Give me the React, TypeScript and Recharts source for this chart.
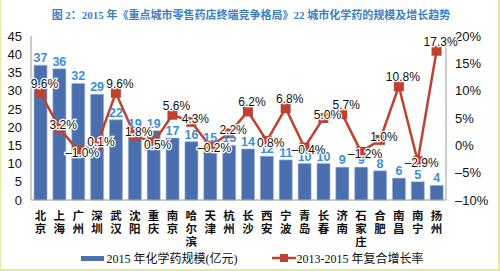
import { ComposedChart, Bar, Line, XAxis, YAxis, LabelList, Legend } from 'recharts'

const cities = [
  '北京', '上海', '广州', '深圳', '武汉', '沈阳', '重庆', '南京', '哈尔滨', '天津', '杭州',
  '长沙', '西安', '宁波', '青岛', '长春', '济南', '石家庄', '合肥', '南昌', '南宁', '扬州',
]
const scale2015 = [37, 36, 32, 29, 22, 19, 19, 17, 16, 15, 15, 14, 12, 11, 10, 10, 9, 9, 8, 6, 5, 4]
const cagr = [9.6, 3.2, -1.0, 0.1, 9.6, 1.8, 0.5, 5.6, 4.3, -0.2, 2.2, 6.2, 0.8, 6.8, -0.4, 5.0, 5.7, -1.2, 1.0, 10.8, -2.9, 17.3]

const leftTicks = [0, 5, 10, 15, 20, 25, 30, 35, 40, 45]
const rightTicks = [-10, -5, 0, 5, 10, 15, 20]

const BAR = '#4b6fae'
const LINE = '#bf4130'
const SANS = '"Liberation Sans", Arial, "Noto Sans CJK SC", sans-serif'
const SERIF = '"Liberation Serif", "Noto Sans CJK SC", serif'

const data = cities.map((city, i) => ({ city, size: scale2015[i], rate: cagr[i] }))

const pct = (v: number) => (v < 0 ? '–' + Math.abs(v).toFixed(1) : v.toFixed(1)) + '%'
const pctTick = (v: number) => (v < 0 ? '–' + Math.abs(v) : String(v)) + '%'

// city names stacked vertically, one character per line
function CityTick({ x, y, payload }: any) {
  const chars = String(payload.value).split('')
  return (
    <text x={x} y={y} textAnchor="middle" fontSize={11.5} fontWeight="bold" fill="#111" fontFamily={SANS}>
      {chars.map((c, i) => (
        <tspan key={i} x={x} dy={i === 0 ? 12 : 13}>{c}</tspan>
      ))}
    </text>
  )
}

// growth labels: above peaks, under dips, beside the line on slopes
function RateLabel({ x, y, value, index }: any) {
  const prev = index > 0 ? cagr[index - 1] : -Infinity
  const next = index < cagr.length - 1 ? cagr[index + 1] : -Infinity
  const prevD = index > 0 ? cagr[index - 1] : Infinity
  const nextD = index < cagr.length - 1 ? cagr[index + 1] : Infinity
  let dy = 1
  if (value > prev && value > next) dy = -5
  else if (value < prevD && value < nextD) dy = 6
  return (
    <text
      x={x + 4}
      y={y + dy}
      textAnchor="middle"
      fontSize={12}
      fill="#111"
      fontFamily={SANS}
      stroke="#fff"
      strokeWidth={2.5}
      paintOrder="stroke"
    >
      {pct(value)}
    </text>
  )
}

function SquareDot({ cx, cy }: any) {
  return <rect x={cx - 5} y={cy - 5} width={10} height={10} fill={LINE} />
}

function LegendBox() {
  return (
    <div style={{ height: 26, display: 'flex', justifyContent: 'center', alignItems: 'center', gap: 34, fontFamily: SERIF, fontSize: 12, color: '#111', paddingLeft: 4 }}>
      <span style={{ display: 'flex', alignItems: 'center' }}>
        <span style={{ display: 'inline-block', width: 23, height: 5, background: BAR, marginRight: 3 }} />
        2015 年化学药规模(亿元)
      </span>
      <span style={{ display: 'flex', alignItems: 'center' }}>
        <svg width={24} height={10} style={{ marginRight: 1 }}>
          <line x1={0} y1={5} x2={24} y2={5} stroke={LINE} strokeWidth={2.5} />
          <rect x={8} y={1} width={8} height={8} fill={LINE} />
        </svg>
        2013-2015 年复合增长率
      </span>
    </div>
  )
}

export default function App() {
  return (
    <div
      style={{
        position: 'absolute',
        left: 0,
        top: 0,
        width: 500,
        height: 271,
        boxSizing: 'border-box',
        background: '#fff',
        borderLeft: '1px solid #e3eaa6',
        borderRight: '2px solid #e3eaa6',
        borderBottom: '2px solid #e3eaa6',
      }}
    >
      <div
        style={{
          position: 'absolute',
          top: 6,
          left: 0,
          width: 500,
          textAlign: 'center',
          fontFamily: SERIF,
          fontWeight: 'bold',
          fontSize: 11,
          color: '#3d80c2',
        }}
      >
        图 2：2015 年《重点城市零售药店终端竞争格局》22 城市化学药的规模及增长趋势
      </div>
      <div style={{ position: 'absolute', left: -1, top: 0 }}>
        <ComposedChart width={500} height={271} data={data} margin={{ top: 36, right: 0, bottom: 0, left: 0 }} barCategoryGap="16%">
          <XAxis
            dataKey="city"
            interval={0}
            height={45}
            tick={<CityTick />}
            tickLine={false}
            axisLine={{ stroke: '#9a9a9a' }}
          />
          <YAxis
            yAxisId="left"
            width={31}
            domain={[0, 45]}
            ticks={leftTicks}
            interval={0}
            tick={{ fontSize: 13, fill: '#111', fontFamily: SANS }}
            tickLine={false}
            tickMargin={3}
            axisLine={{ stroke: '#9a9a9a' }}
          />
          <YAxis
            yAxisId="right"
            orientation="right"
            width={54}
            domain={[-10, 20]}
            ticks={rightTicks}
            interval={0}
            tickFormatter={pctTick}
            tick={{ fontSize: 13, fill: '#111', fontFamily: SANS }}
            tickLine={false}
            tickMargin={3}
            axisLine={{ stroke: '#9a9a9a' }}
          />
          <Legend verticalAlign="bottom" height={26} content={<LegendBox />} />
          <Bar yAxisId="left" dataKey="size" fill={BAR} stroke="#9db0d4" strokeWidth={0.6} isAnimationActive={false}>
            <LabelList dataKey="size" position="top" offset={3} fill="#3b8fd9" fontSize={12.5} fontWeight="bold" fontFamily={SANS} />
          </Bar>
          <Line
            yAxisId="right"
            dataKey="rate"
            stroke={LINE}
            strokeWidth={2.5}
            dot={<SquareDot />}
            activeDot={false}
            isAnimationActive={false}
          >
            <LabelList dataKey="rate" content={<RateLabel />} />
          </Line>
        </ComposedChart>
      </div>
    </div>
  )
}
